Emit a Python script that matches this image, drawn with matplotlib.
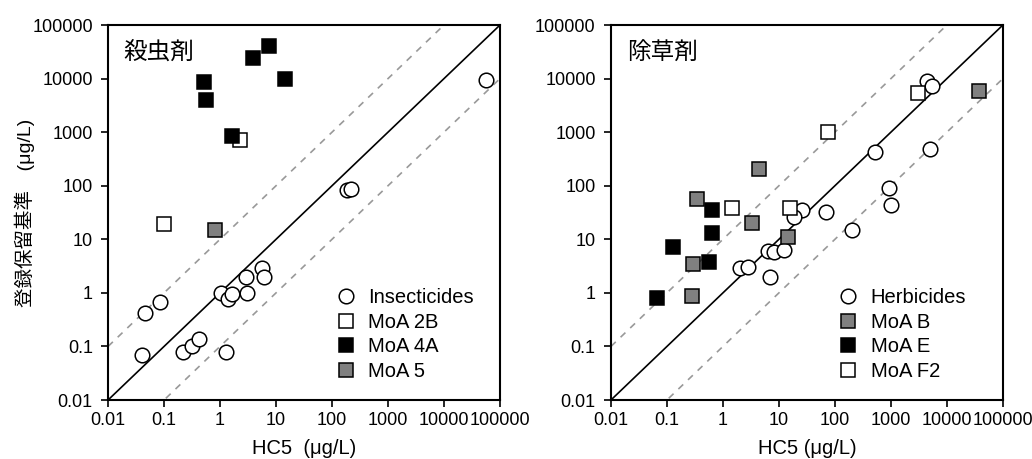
import numpy as np
import matplotlib
matplotlib.use('Agg')
from matplotlib import pyplot as plt
from matplotlib.lines import Line2D

plt.rcParams['font.family'] = ['Liberation Sans', 'Noto Sans CJK JP', 'DejaVu Sans']

# Insecticides panel (HC5, guideline), ug/L
ins_hc5 = [57000, 183, 218, 0.04, 0.046, 0.085, 0.22, 0.32, 0.42, 1.28,
           1.02, 1.37, 1.66, 3.0, 2.9, 5.7, 6.2]
ins_val = [9400, 83, 86, 0.068, 0.43, 0.69, 0.078, 0.10, 0.137, 0.078,
           1.0, 0.76, 0.95, 1.0, 1.95, 2.95, 1.95]
moa2b_hc5 = [2.3, 0.1]
moa2b_val = [700, 19.5]
moa4a_hc5 = [0.52, 0.56, 1.66, 3.8, 7.4, 14.5]
moa4a_val = [8500, 4000, 850, 24000, 40000, 10000]
moa5_hc5 = [0.81]
moa5_val = [15]

# Herbicides panel
her_hc5 = [4500, 5400, 515, 5000, 910, 1000, 26, 18.7, 69, 200,
           6.5, 8.2, 12.4, 2.0, 2.8, 6.9]
her_val = [9000, 7400, 420, 490, 92, 43, 36, 26, 33, 15,
           6.1, 5.9, 6.3, 2.95, 3.1, 2.0]
moab_hc5 = [38000, 4.4, 0.34, 3.3, 14.8, 0.29, 0.275]
moab_val = [5900, 205, 56, 20, 11, 3.5, 0.87]
moae_hc5 = [0.63, 0.65, 0.13, 0.56, 0.067]
moae_val = [36, 13, 7.3, 3.8, 0.8]
moaf2_hc5 = [3000, 76, 1.43, 15.7]
moaf2_val = [5350, 1020, 39, 38]

GRAY = '#808080'
ticks = [0.01, 0.1, 1, 10, 100, 1000, 10000, 100000]
ticklabels = ['0.01', '0.1', '1', '10', '100', '1000', '10000', '100000']

fig = plt.figure(figsize=(10.32, 4.59), dpi=100)
ax1 = fig.add_axes([0.1047, 0.1285, 0.3798, 0.817])
ax2 = fig.add_axes([0.592, 0.1285, 0.3798, 0.817])

ms = 10.5
mew = 1.1


def setup(ax):
    ax.set_xscale('log')
    ax.set_yscale('log')
    ax.set_xlim(0.01, 100000)
    ax.set_ylim(0.01, 100000)
    xx = np.array([0.01, 100000])
    ax.plot(xx, xx, color='k', lw=1.2, zorder=1)
    ax.plot(xx, xx * 10, color='#999999', lw=1.2, ls=(0, (4, 4)), zorder=1)
    ax.plot(xx, xx / 10, color='#999999', lw=1.2, ls=(0, (4, 4)), zorder=1)
    ax.set_xticks(ticks)
    ax.set_xticklabels(ticklabels, fontsize=13)
    ax.set_yticks(ticks)
    ax.set_yticklabels(ticklabels, fontsize=13)
    ax.minorticks_off()
    ax.tick_params(direction='out', length=5, width=1.2)
    ax.tick_params(axis='y', pad=6)
    for s in ax.spines.values():
        s.set_linewidth(1.5)


def pts(ax, x, y, marker, fc):
    ax.plot(x, y, ls='none', marker=marker, ms=ms, mfc=fc, mec='k', mew=mew, zorder=3)


def handle(marker, fc):
    return Line2D([], [], ls='none', marker=marker, ms=ms, mfc=fc, mec='k', mew=mew)


def legend(ax, handles, labels):
    ax.legend(handles, labels, loc='lower left', bbox_to_anchor=(0.575, 0.04),
              frameon=False, fontsize=14.5, handlelength=0.8, handletextpad=0.7,
              labelspacing=0.28, borderpad=0.2, borderaxespad=0)


setup(ax1)
pts(ax1, ins_hc5, ins_val, 'o', 'white')
pts(ax1, moa2b_hc5, moa2b_val, 's', 'white')
pts(ax1, moa4a_hc5, moa4a_val, 's', 'black')
pts(ax1, moa5_hc5, moa5_val, 's', GRAY)
ax1.text(0.04, 0.955, '殺虫剤', transform=ax1.transAxes, fontsize=17, va='top', ha='left')
legend(ax1, [handle('o', 'white'), handle('s', 'white'), handle('s', 'black'), handle('s', GRAY)],
       ['Insecticides', 'MoA 2B', 'MoA 4A', 'MoA 5'])
ax1.set_xlabel('HC5  (μg/L)', fontsize=14.5, labelpad=7)
ax1.set_ylabel('登録保留基準\u3000(μg/L)', fontsize=14, labelpad=-2)

setup(ax2)
pts(ax2, her_hc5, her_val, 'o', 'white')
pts(ax2, moab_hc5, moab_val, 's', GRAY)
pts(ax2, moae_hc5, moae_val, 's', 'black')
pts(ax2, moaf2_hc5, moaf2_val, 's', 'white')
ax2.text(0.04, 0.955, '除草剤', transform=ax2.transAxes, fontsize=17, va='top', ha='left')
legend(ax2, [handle('o', 'white'), handle('s', GRAY), handle('s', 'black'), handle('s', 'white')],
       ['Herbicides', 'MoA B', 'MoA E', 'MoA F2'])
ax2.set_xlabel('HC5 (μg/L)', fontsize=14.5, labelpad=7)

fig.savefig('out.png', dpi=100)
